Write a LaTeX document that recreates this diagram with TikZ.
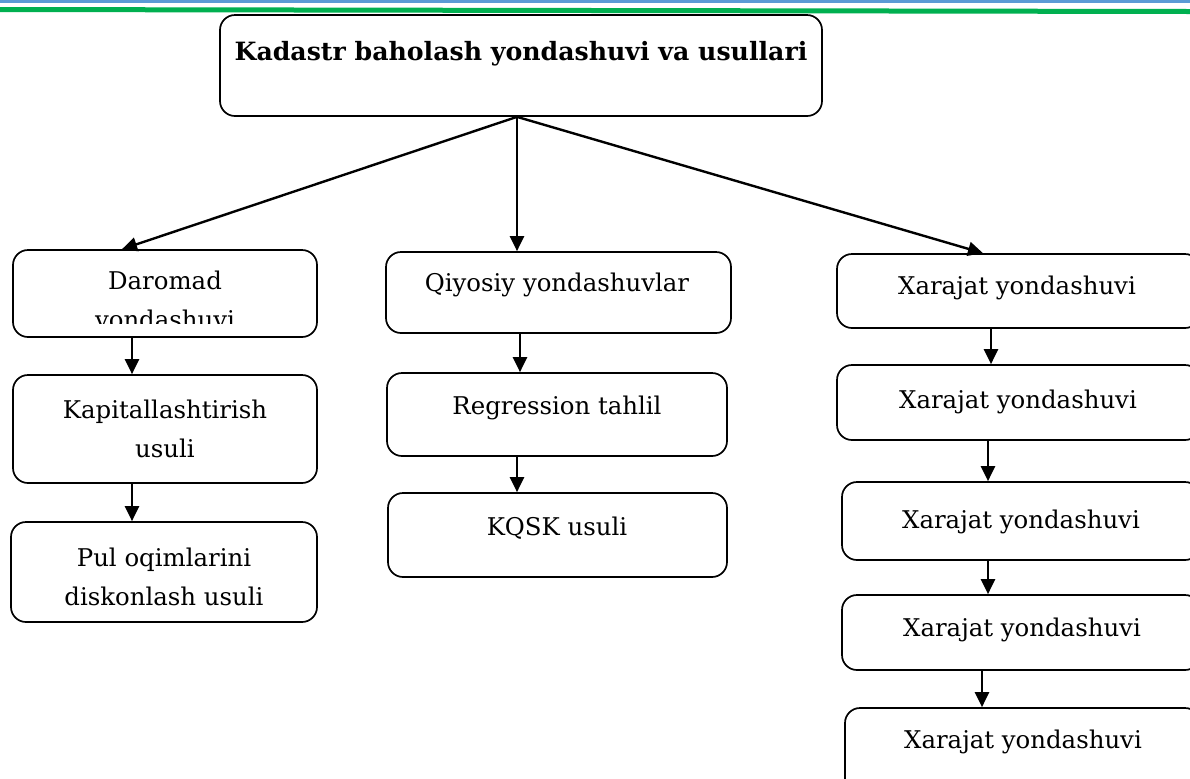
\documentclass[tikz,border=0pt]{standalone}
\usepackage{fontspec}
\setmainfont{DejaVu Serif}
\usetikzlibrary{arrows.meta, positioning}

\definecolor{ruleblue}{HTML}{5B9BD5}
\definecolor{rulegreen}{HTML}{00B050}

\begin{document}
\begin{tikzpicture}[
	x=0.5pt, y=-0.5pt,
	box/.style={draw, rounded corners=7.5pt, line width=0.85pt, inner sep=0pt},
	txt/.style={font=\fontsize{12.2}{19.5}\selectfont, align=center, inner sep=0pt},
	arr/.style={-{Triangle[length=7.5pt, width=7pt]}, line width=1.2pt}
]

\useasboundingbox (0,0) rectangle (1190,778);
\clip (0,0) rectangle (1190,778);

% page rules
\fill[ruleblue] (0,0) rectangle (1190,3);
\fill[rulegreen] (0,7) -- (1190,9) -- (1190,14) -- (0,12) -- cycle;

% boxes
\node[box, minimum width=301pt, minimum height=50.5pt] (top) at (521,65.5) {};

\node[box, minimum width=152pt, minimum height=43.5pt] (d1) at (165,293.5) {};
\node[box, minimum width=152pt, minimum height=54pt] (d2) at (165,429) {};
\node[box, minimum width=153pt, minimum height=50pt] (d3) at (164,572) {};

\node[box, minimum width=172.5pt, minimum height=40.5pt] (q1) at (558.5,292.5) {};
\node[box, minimum width=170pt, minimum height=41.5pt] (q2) at (557,414.5) {};
\node[box, minimum width=169.5pt, minimum height=42pt] (q3) at (557.5,535) {};

\node[box, minimum width=181.5pt, minimum height=37pt] (x1) at (1018.5,291) {};
\node[box, minimum width=181.5pt, minimum height=37.5pt] (x2) at (1018.5,402.5) {};
\node[box, minimum width=179pt, minimum height=39pt] (x3) at (1021,521) {};
\node[box, minimum width=179pt, minimum height=37.5pt] (x4) at (1021,632.5) {};
\node[box, minimum width=177.5pt, minimum height=46pt] (x5) at (1022.5,754) {};

% texts
\node[txt, font=\fontsize{12.6}{15}\selectfont\bfseries] (topt) at (521,54) {Kadastr baholash yondashuvi va usullari};

\begin{scope}
	\clip (13,250) rectangle (317,323);
	\node[txt] (d1t) at (165,302) {Daromad\\yondashuvi};
\end{scope}
\node[txt] (d2t) at (165,429) {Kapitallashtirish\\usuli};
\node[txt] (d3t) at (164,577) {Pul oqimlarini\\diskonlash usuli};

\node[txt] (q1t) at (557,285) {Qiyosiy yondashuvlar};
\node[txt] (q2t) at (557,408) {Regression tahlil};
\node[txt] (q3t) at (557,528) {KQSK usuli};

\node[txt] (x1t) at (1017,288) {Xarajat yondashuvi};
\node[txt] (x2t) at (1018,402) {Xarajat yondashuvi};
\node[txt] (x3t) at (1021,522) {Xarajat yondashuvi};
\node[txt] (x4t) at (1022,630) {Xarajat yondashuvi};
\node[txt] (x5t) at (1023,742) {Xarajat yondashuvi};

% arrows
\coordinate (split) at (top.south -| 517,0);
\draw[arr] (split) -- (d1.north -| 122,0);
\draw[arr] (split) -- (q1.north -| 517,0);
\draw[arr] (split) -- (x1.north -| 983,0);

\foreach \from/\to/\col in {d1/d2/132, d2/d3/132, q1/q2/520, q2/q3/517,
	x1/x2/991, x2/x3/988, x3/x4/988, x4/x5/982}
	\draw[arr] (\from.south -| \col,0) -- (\to.north -| \col,0);

\end{tikzpicture}
\end{document}
